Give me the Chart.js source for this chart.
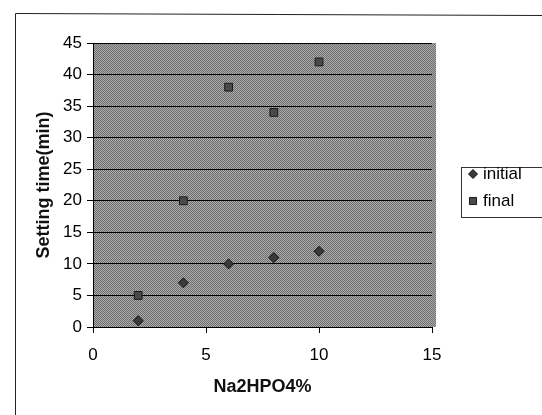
<!DOCTYPE html>
<html>
<head>
<meta charset="utf-8">
<script src="https://cdn.jsdelivr.net/npm/chart.js@4.4.0/dist/chart.umd.min.js"></script>
<style>
  body { margin: 0; background: #fff; }
  canvas { display: block; }
</style>
</head>
<body>
<canvas id="settingChart" width="542" height="415"></canvas>
<script>
// Na2HPO4 content (%) and setting times (min)
const xValues = [2, 4, 6, 8, 10];
const initialTimes = [1, 7, 10, 11, 12];
const finalTimes = [5, 20, 38, 34, 42];
const xTicks = [0, 5, 10, 15];
const yTicks = [0, 5, 10, 15, 20, 25, 30, 35, 40, 45];

const toPoints = (ys) => xValues.map((x, i) => ({ x: x, y: ys[i] }));

// dithered gray like the Excel plot area
const patCanvas = document.createElement('canvas');
patCanvas.width = 2;
patCanvas.height = 2;
const pctx = patCanvas.getContext('2d');
pctx.fillStyle = '#ababab';
pctx.fillRect(0, 0, 2, 2);
pctx.fillStyle = '#6e6e6e';
pctx.fillRect(0, 0, 1, 1);
pctx.fillRect(1, 1, 1, 1);

const frameAndBackground = {
    id: 'frameAndBackground',
    beforeDraw(chart) {
        const c = chart.ctx;
        const a = chart.chartArea;
        c.save();
        c.fillStyle = '#fff';
        c.fillRect(0, 0, chart.width, chart.height);
        // outer chart border (cut off at right/bottom in the scan)
        c.strokeStyle = '#222';
        c.lineWidth = 1;
        c.beginPath();
        c.moveTo(15.5, chart.height);
        c.lineTo(15.5, 13.5);
        c.lineTo(chart.width, 15.5);
        c.stroke();
        // plot area
        c.fillStyle = c.createPattern(patCanvas, 'repeat');
        c.fillRect(a.left, a.top, a.right - a.left + 4, a.bottom - a.top);
        c.restore();
    }
};

const boxLegend = {
    id: 'boxLegend',
    afterDraw(chart) {
        const c = chart.ctx;
        c.save();
        c.fillStyle = '#fff';
        c.fillRect(461, 167, 100, 50);
        c.strokeStyle = '#333';
        c.lineWidth = 1;
        c.strokeRect(461.5, 167.5, 100, 50);
        c.font = '17px Arial, "Liberation Sans", sans-serif';
        c.textBaseline = 'middle';
        const rows = [174, 201];
        chart.data.datasets.forEach((ds, i) => {
            c.fillStyle = ds.backgroundColor;
            c.strokeStyle = ds.borderColor;
            c.lineWidth = 1;
            Chart.helpers.drawPoint(c, { pointStyle: ds.pointStyle, radius: ds.pointRadius - 0.5, borderWidth: 1 }, 473, rows[i]);
            c.fillStyle = '#000';
            c.fillText(ds.label, 483, rows[i]);
        });
        c.restore();
    }
};

new Chart(document.getElementById('settingChart'), {
    type: 'scatter',
    data: {
        datasets: [{
            label: 'initial',
            data: toPoints(initialTimes),
            pointStyle: 'rectRot',
            pointRadius: 5,
            backgroundColor: '#3a3a3a',
            borderColor: '#111',
            borderWidth: 1
        }, {
            label: 'final',
            data: toPoints(finalTimes),
            pointStyle: 'rect',
            pointRadius: 5.5,
            backgroundColor: '#4a4a4a',
            borderColor: '#1a1a1a',
            borderWidth: 1
        }]
    },
    options: {
        responsive: false,
        animation: false,
        devicePixelRatio: 1,
        layout: { padding: { left: 0, right: 110, top: 43, bottom: 0 } },
        plugins: {
            legend: { display: false },
            tooltip: { enabled: false }
        },
        scales: {
            x: {
                type: 'linear',
                min: 0,
                max: 15,
                afterBuildTicks: (scale) => { scale.ticks = xTicks.map(v => ({ value: v })); },
                afterFit: (scale) => { scale.height = 88; },
                grid: { drawOnChartArea: false, drawTicks: true, tickLength: 6, color: '#000' },
                border: { display: true, color: '#000', width: 1 },
                ticks: {
                    color: '#000',
                    padding: 12,
                    font: { size: 17, family: 'Arial, "Liberation Sans", sans-serif' }
                },
                title: {
                    display: true,
                    text: 'Na2HPO4%',
                    color: '#111',
                    padding: { top: 0, bottom: 17 },
                    font: { size: 18, weight: 'bold', family: 'Arial, "Liberation Sans", sans-serif' }
                }
            },
            y: {
                type: 'linear',
                min: 0,
                max: 45,
                afterBuildTicks: (scale) => { scale.ticks = yTicks.map(v => ({ value: v })); },
                afterFit: (scale) => { scale.width = 93; },
                grid: { color: '#000', lineWidth: 1, tickLength: 6 },
                border: { display: true, color: '#000', width: 1 },
                ticks: {
                    color: '#000',
                    padding: 5,
                    font: { size: 17, family: 'Arial, "Liberation Sans", sans-serif' }
                },
                title: {
                    display: true,
                    text: 'Setting time(min)',
                    color: '#111',
                    padding: { top: 33, bottom: 0 },
                    font: { size: 18, weight: 'bold', family: 'Arial, "Liberation Sans", sans-serif' }
                }
            }
        }
    },
    plugins: [frameAndBackground, boxLegend]
});
</script>
</body>
</html>
